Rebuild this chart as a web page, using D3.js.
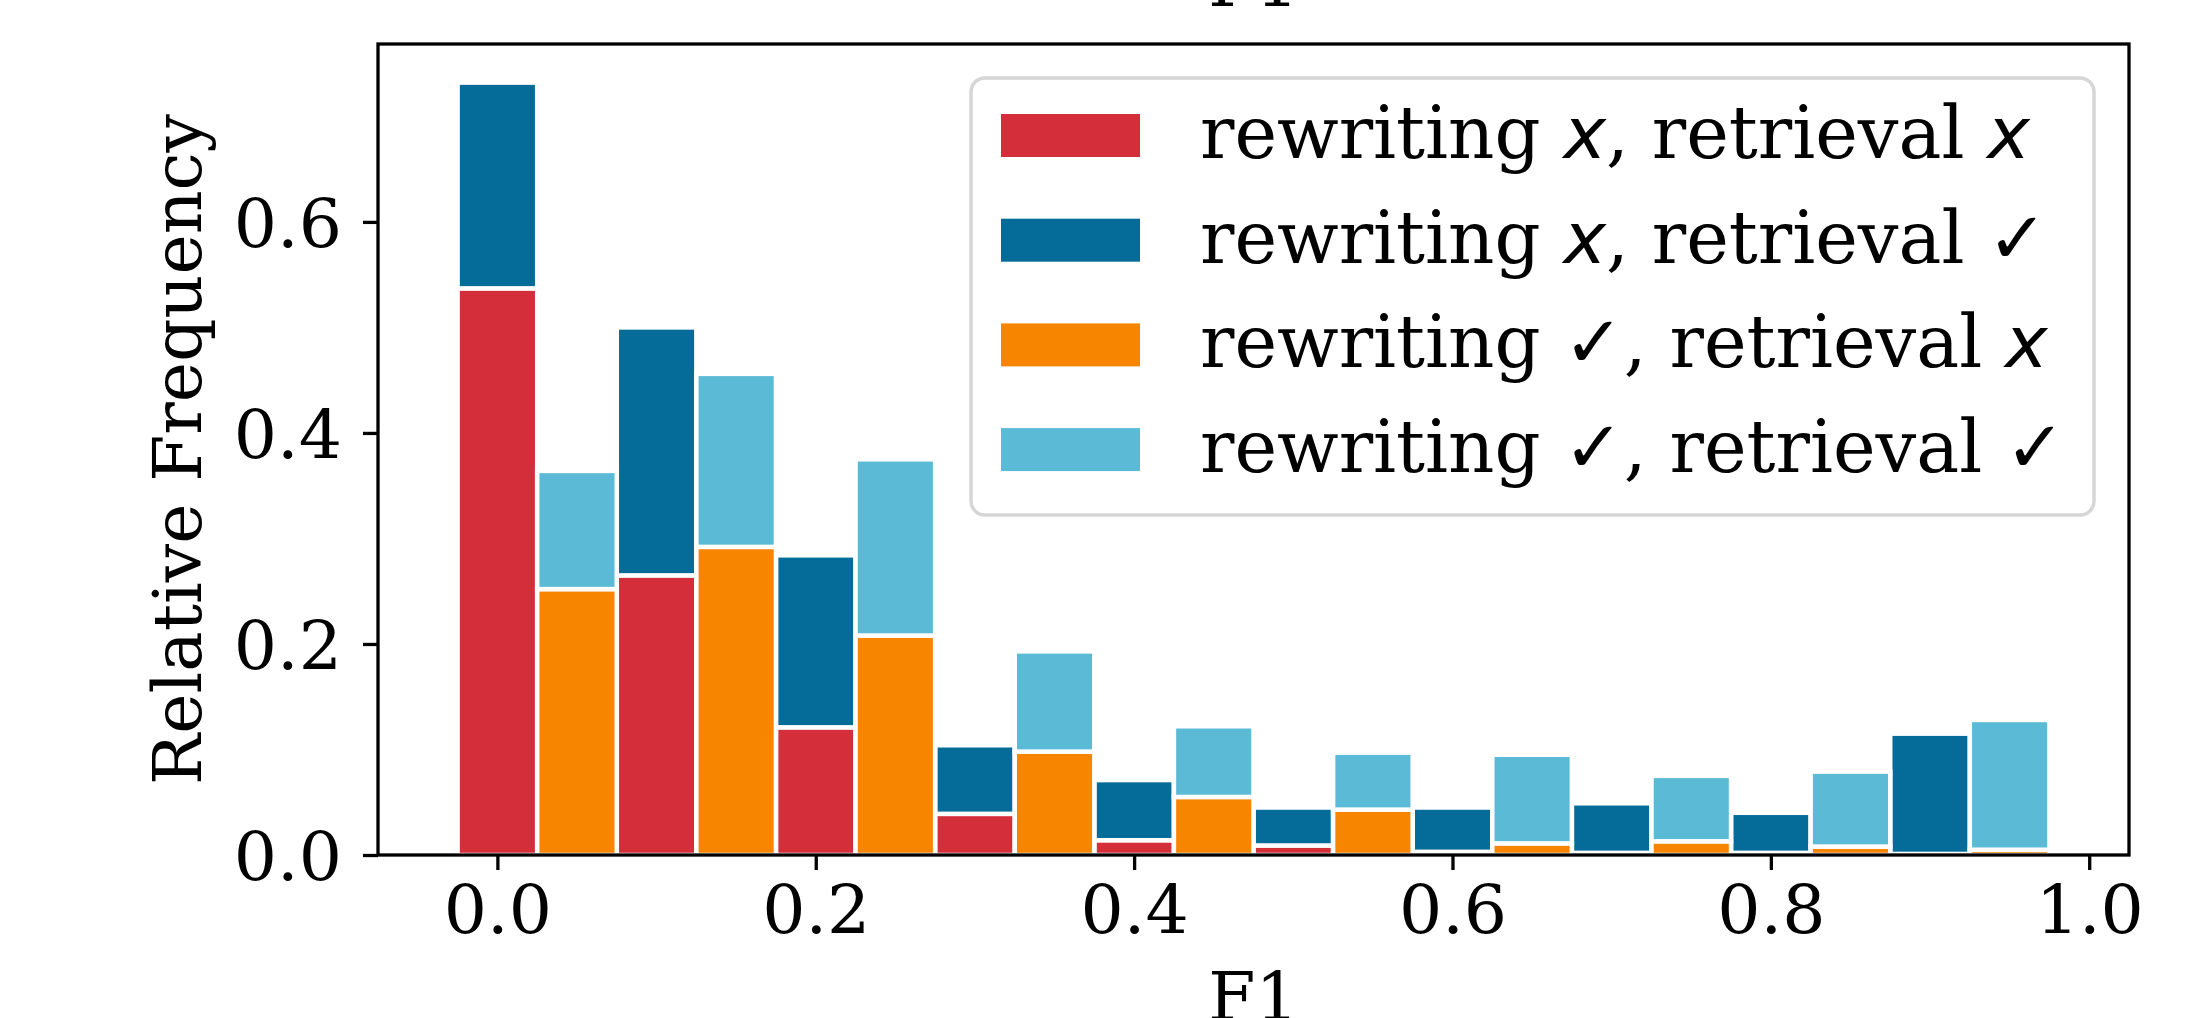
<!DOCTYPE html>
<html>
<head>
<meta charset="utf-8">
<script src="https://cdn.jsdelivr.net/npm/d3@7"></script>
<style>
  html, body { margin: 0; padding: 0; background: #fff; }
  svg { display: block; }
  text { font-family: "DejaVu Serif", serif; fill: #000; }
</style>
</head>
<body>
<div id="chart"></div>
<script>
/* ── stacked F1 histogram: rewriting / retrieval correctness ── */

// left edges of the bars (bin width 0.05, two interleaved groups)
const leftsRewriteWrong = [-0.025, 0.075, 0.175, 0.275, 0.375, 0.475, 0.575, 0.675, 0.775, 0.875];
const leftsRewriteRight = [0.025, 0.125, 0.225, 0.325, 0.425, 0.525, 0.625, 0.725, 0.825, 0.925];
const BIN_W = 0.05;

// segment heights (relative frequency)
const wrongWrong = [0.537, 0.265, 0.121, 0.039, 0.014, 0.009, 0.003, 0.002, 0.002, 0.001]; // red
const wrongRight = [0.195, 0.235, 0.163, 0.065, 0.057, 0.036, 0.042, 0.047, 0.038, 0.114]; // dark blue
const rightWrong = [0.252, 0.292, 0.208, 0.098, 0.055, 0.043, 0.011, 0.013, 0.008, 0.005]; // orange
const rightRight = [0.112, 0.164, 0.167, 0.095, 0.067, 0.054, 0.084, 0.062, 0.071, 0.123]; // light blue

const xTicks = [0.0, 0.2, 0.4, 0.6, 0.8, 1.0];
const yTicks = [0.0, 0.2, 0.4, 0.6];

const COLORS = { ww: '#d32e3a', wr: '#056c9a', rw: '#f88500', rr: '#5bbad5' };

// ── layout ───────────────────────────────────────────────────
const W = 2194, H = 1018;
const ML = 378, MR = 65, MT = 44, MB = 163;
const plotW = W - ML - MR;
const plotH = H - MT - MB;
const FS = 68;      // ticks + axis labels
const FS_LEG = 72;  // legend entries

const svg = d3.select('#chart').append('svg').attr('width', W).attr('height', H);
const g = svg.append('g').attr('transform', `translate(${ML},${MT})`);

const x = d3.scaleLinear().domain([-0.075, 1.025]).range([0, plotW]);
const yMax = d3.max(leftsRewriteWrong, (_, i) => wrongWrong[i] + wrongRight[i]) * 1.05;
const y = d3.scaleLinear().domain([0, yMax]).range([plotH, 0]);

// ── bars ─────────────────────────────────────────────────────
function stackRows(lefts, a, b, keyA, keyB) {
  const rows = lefts.map((l, i) => ({ left: l, [keyA]: a[i], [keyB]: b[i] }));
  return d3.stack().keys([keyA, keyB])(rows);
}

const stacks = [
  ...stackRows(leftsRewriteWrong, wrongWrong, wrongRight, 'ww', 'wr'),
  ...stackRows(leftsRewriteRight, rightWrong, rightRight, 'rw', 'rr'),
];

const barsG = g.append('g');
stacks.forEach(layer => {
  barsG.selectAll(null).data(layer).enter().append('rect')
    .attr('x', d => x(d.data.left))
    .attr('width', x(BIN_W) - x(0))
    .attr('y', d => y(d[1]))
    .attr('height', d => y(d[0]) - y(d[1]))
    .attr('fill', COLORS[layer.key])
    .attr('stroke', '#fff')
    .attr('stroke-width', 4.5);
});

// ── axes ─────────────────────────────────────────────────────
const xAxis = g.append('g').attr('transform', `translate(0,${plotH})`)
  .call(d3.axisBottom(x).tickValues(xTicks).tickFormat(d3.format('.1f'))
    .tickSize(15).tickPadding(14));
const yAxis = g.append('g')
  .call(d3.axisLeft(y).tickValues(yTicks).tickFormat(d3.format('.1f'))
    .tickSize(15).tickPadding(14));

[xAxis, yAxis].forEach(a => {
  a.select('.domain').remove();
  a.selectAll('.tick line').attr('stroke', '#000').attr('stroke-width', 3.3);
  a.selectAll('.tick text')
    .attr('font-family', '"DejaVu Serif", serif')
    .attr('font-size', FS).attr('fill', '#000');
});
xAxis.selectAll('.tick text').attr('dy', null).attr('y', 28 + FS * 0.73);
yAxis.selectAll('.tick text').attr('x', -36).attr('dy', '0.36em');

// frame
g.append('rect').attr('width', plotW).attr('height', plotH)
  .attr('fill', 'none').attr('stroke', '#000').attr('stroke-width', 3.3);

// labels
svg.append('text').attr('x', ML + plotW / 2).attr('y', 6)
  .attr('text-anchor', 'middle').attr('font-size', FS).text('F1');
svg.append('text').attr('x', ML + plotW / 2).attr('y', 1020)
  .attr('text-anchor', 'middle').attr('font-size', FS).text('F1');
svg.append('text')
  .attr('transform', `translate(177,${MT + plotH / 2}) rotate(-90)`)
  .attr('text-anchor', 'middle').attr('dy', '0.36em')
  .attr('font-size', FS).text('Relative Frequency');

// ── legend ───────────────────────────────────────────────────
const legendItems = [
  { key: 'ww', rw: 'x', rt: 'x' },
  { key: 'wr', rw: 'x', rt: '✓' },
  { key: 'rw', rw: '✓', rt: 'x' },
  { key: 'rr', rw: '✓', rt: '✓' },
];

const lg = svg.append('g').attr('transform', 'translate(971,78)');
lg.append('rect').attr('width', 1123).attr('height', 437).attr('rx', 14)
  .attr('fill', '#fff').attr('fill-opacity', 0.8)
  .attr('stroke', '#d6d6d6').attr('stroke-width', 3.5);

const rows = lg.selectAll('g.item').data(legendItems).enter().append('g')
  .attr('class', 'item')
  .attr('transform', (_, i) => `translate(0,${36 + i * 104.7})`);

rows.append('rect').attr('x', 30).attr('width', 139).attr('height', 43)
  .attr('fill', d => COLORS[d.key]);

function sym(t, s) {
  if (s === 'x') {
    t.append('tspan').attr('font-family', '"DejaVu Sans", sans-serif')
      .attr('font-style', 'italic').text('x');
  } else {
    t.append('tspan').attr('font-family', '"DejaVu Sans", sans-serif').text('✓');
  }
}

rows.append('text').attr('x', 229).attr('y', 44).attr('font-size', FS_LEG)
  .each(function (d) {
    const t = d3.select(this);
    t.append('tspan').text('rewriting ');
    sym(t, d.rw);
    t.append('tspan').text(', retrieval ');
    sym(t, d.rt);
  });
</script>
</body>
</html>
